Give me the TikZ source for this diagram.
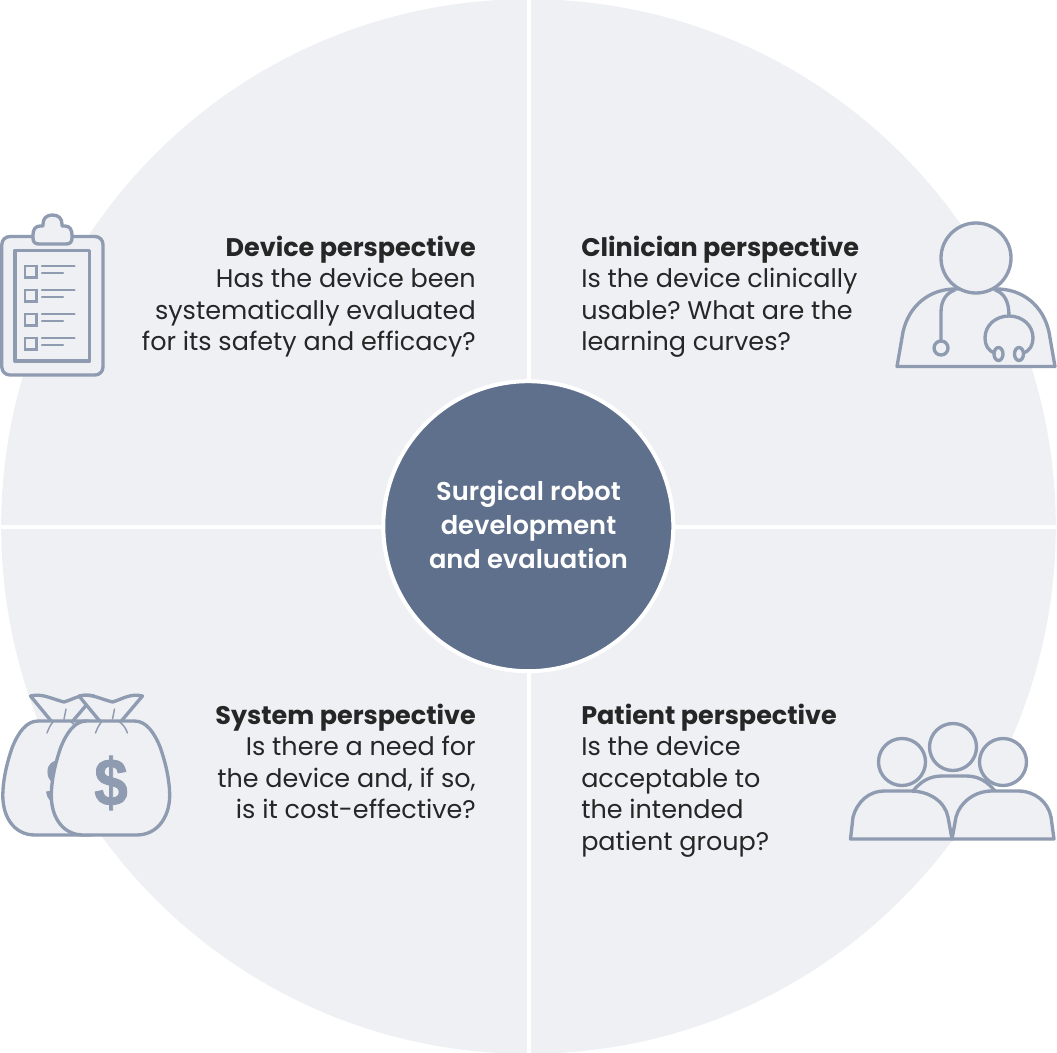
\documentclass[tikz,border=0pt]{standalone}
\usepackage{fontspec}
\setmainfont{Poppins}
\newfontfamily\hubfont{Poppins SemiBold}
\newfontfamily\dollarfont{Liberation Sans}[BoldFeatures={FakeBold=1.5}]
\definecolor{bgc}{HTML}{EEF0F4}
\definecolor{midc}{HTML}{5F708C}
\definecolor{icn}{HTML}{8F9BB0}
\frenchspacing
\tikzset{
 px/.style={x=0.75pt,y=-0.75pt},
 lbl/.style={inner sep=0pt,font=\fontsize{19.1pt}{23.7pt}\selectfont,text=black!85},
 lblr/.style={lbl,anchor=north east,align=right},
 lbll/.style={lbl,anchor=north west,align=left},
 ico/.style={draw=icn,fill=bgc,line width=2.5pt,line join=round},
 icotwo/.style={draw=icn,line width=1.6pt},
 thin/.style={draw=icn,line width=1.6pt,line cap=round},
 divider/.style={draw=white,line width=3pt},
}
\begin{document}
\begin{tikzpicture}[px]
\useasboundingbox (0,0) rectangle (1057,1053);
\node[circle,fill=bgc,minimum size=791pt,inner sep=0pt] (disc) at (528.5,526.5) {};
\coordinate (t) at (528.5,0); \coordinate (b) at (528.5,1053);
\coordinate (l) at (0,526.5); \coordinate (r) at (1057,526.5);
\draw[divider] (t)--(b);
\draw[divider] (l)--(r);
\node[circle,fill=midc,draw=white,line width=3pt,minimum size=217.5pt,inner sep=0pt,outer sep=0pt] (hub) at (528.3,526.2) {};
\node[font=\hubfont\fontsize{19.3pt}{25.5pt}\selectfont,text=white,align=center,inner sep=0pt] (hubtext) at (528.5,524.5) {Surgical robot\\development\\and evaluation};
\node[lblr] (device) at (476,235.5) {\textbf{Device perspective}\\Has the device been\\systematically evaluated\\for its safety and efficacy?};
\node[lbll] (clinician) at (581,235.5) {\textbf{Clinician perspective}\\Is the device clinically\\usable? What are the\\learning curves?};
\node[lblr] (system) at (476,703.5) {\textbf{System perspective}\\Is there a need for\\the device and, if so,\\is it cost-effective?};
\node[lbll] (patient) at (581,703.5) {\textbf{Patient perspective}\\Is the device\\acceptable to\\the intended\\patient group?};
% clipboard
\draw[ico,rounded corners=6] (1.8,236.5) rectangle (103,375);
\draw[ico] (43,226) -- (43,224) .. controls (43,218) and (47,215) .. (52.5,215) .. controls (58,215) and (62,218) .. (62,224) -- (62,226) -- (65,226) .. controls (70,226) and (72,230) .. (72,235) -- (72,238) .. controls (72,242) and (70,244) .. (66,244) -- (39,244) .. controls (35,244) and (33,242) .. (33,238) -- (33,235) .. controls (33,230) and (35,226) .. (40,226) -- cycle;
\draw[ico] (15,250.5) rectangle (89.5,361);
\foreach \y in {266,290,314,338}{
 \draw[icotwo] (25,\y) rectangle (36.5,\y+11.5);
 \draw[thin] (42,\y) -- (74.5,\y);
 \draw[thin] (42,\y+7) -- (63,\y+7);
}
% doctor
\draw[ico] (897,366.5) -- (903,332) .. controls (909,305) and (930,289) .. (955,289) -- (997,289) .. controls (1022,289) and (1043,305) .. (1049,332) -- (1055,366.5) -- cycle;
\draw[ico] (976,258) circle[radius=35];
\draw[ico,fill=none] (955,290) .. controls (946,293) and (941,301) .. (941,312) -- (941,341);
\draw[ico] (941,348) circle[radius=7];
\draw[ico,fill=none] (995,290) .. controls (1004,293) and (1009,301) .. (1009,316);
\draw[ico,fill=none] (995,353) .. controls (988,351) and (985,345) .. (985,338) .. controls (985,325) and (996,316) .. (1009,316) .. controls (1022,316) and (1033,325) .. (1033,338) .. controls (1033,345) and (1030,351) .. (1023,353);
\draw[ico] (998.5,354) ellipse[x radius=4.5,y radius=6.5];
\draw[ico] (1019,354) ellipse[x radius=4.5,y radius=6.5];
% money bags
\foreach \dx/\c in {0/1,48.5/2}{
\begin{scope}[xshift=\dx*0.75pt]
 \draw[ico] (30.5,696) .. controls (42,693) and (52,699) .. (64,702) .. controls (74,699) and (82,693) .. (94,696) -- (72,722) -- (52,722) -- cycle;
 \draw[ico] (38,721) -- (86,721) .. controls (98,721) and (106,733) .. (112,748) .. controls (116,760) and (120,774) .. (121,790) .. controls (123,815) and (110,835) .. (88,835) -- (35,835) .. controls (13,835) and (1,815) .. (3,790) .. controls (4,774) and (8,760) .. (12,748) .. controls (18,733) and (26,721) .. (38,721) -- cycle;
 \draw[thin,line width=1.1pt] (66,709) -- (64,719);
 \draw[thin,line width=1.1pt] (47,733) .. controls (49,727) and (52,723) .. (53,722);
 \draw[thin,line width=1.1pt] (79,733) .. controls (77,727) and (73,723) .. (71,722);
 \node[font=\dollarfont\fontsize{50pt}{50pt}\selectfont\bfseries,text=icn,inner sep=0pt] (dollar\c) at (62.5,783) {\scalebox{0.9}[1]{\$}};
\end{scope}}
% patients
\draw[ico] (913,791) .. controls (921,781) and (930,776) .. (942,776) -- (966,776) .. controls (978,776) and (987,781) .. (995,791);
\draw[ico] (953,747) circle[radius=23.5];
\draw[ico] (902,762) circle[radius=23.5];
\draw[ico] (1003,762) circle[radius=23.5];
\draw[ico] (850.5,839) -- (853,817) .. controls (857,802) and (869,791) .. (884,791) -- (910,791) .. controls (930,791) and (945,802) .. (948,817) -- (952,839) -- cycle;
\draw[ico] (952,839) -- (956,817) .. controls (960,802) and (975,791) .. (992,791) -- (1018,791) .. controls (1035,791) and (1048,802) .. (1051,817) -- (1054,839) -- cycle;
\end{tikzpicture}
\end{document}
